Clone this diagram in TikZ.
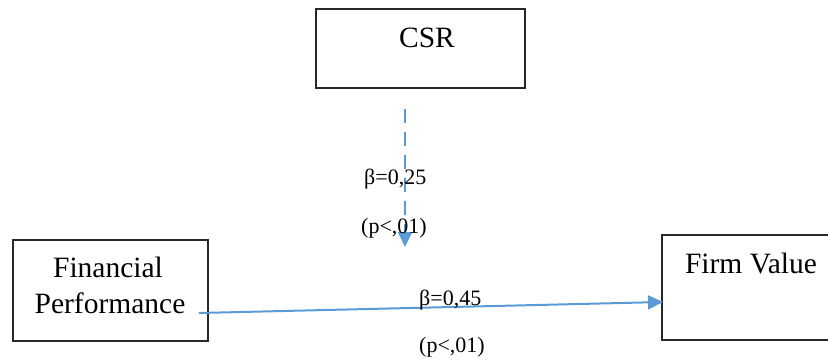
\documentclass[tikz,border=0pt]{standalone}
\usepackage{fontspec}
\setmainfont{Liberation Serif}
\usetikzlibrary{arrows.meta}
\definecolor{linkblue}{RGB}{91,155,213}
\definecolor{boxgray}{RGB}{40,40,40}
\begin{document}
\begin{tikzpicture}[x=1pt,y=-1pt,
  varbox/.style={draw=boxgray,line width=1.2pt,rectangle,inner sep=0pt},
  bigtext/.style={inner sep=0pt,anchor=base,font=\fontsize{29.5}{34}\selectfont},
  smalltext/.style={inner sep=0pt,anchor=base west,font=\fontsize{22}{26}\selectfont},
  link/.style={draw=linkblue,line width=2pt,-{Triangle[length=15pt,width=14pt]}},
  dashlink/.style={link,dash pattern=on 14pt off 9pt}]
\useasboundingbox (0,0) rectangle (828,360);
% boxes
\node[varbox,minimum width=209pt,minimum height=79pt] (csr) at (420.5,48.5) {};
\node[varbox,minimum width=195pt,minimum height=101pt] (fp) at (110.5,290.5) {};
\node[varbox,minimum width=180pt,minimum height=105pt] (fv) at (752,287.5) {};
% texts
\node[bigtext] (csrtext) at (427,47) {CSR};
\node[bigtext] (fptext1) at (108,277) {Financial};
\node[bigtext] (fptext2) at (110,313) {Performance};
\node[bigtext] (fvtext) at (751,273) {Firm Value};
% connector ends
\coordinate (dstart) at (405,109);
\coordinate (dend) at (405,247);
\coordinate (sstart) at (199,313);
\coordinate (send) at (663,302);
\draw[dashlink] (dstart) -- (dend);
\draw[link] (sstart) -- (send);
% labels
\node[smalltext] (b1) at (364,184) {β=0,25};
\node[smalltext] (p1) at (361,233) {(p<,01)};
\node[smalltext] (b2) at (419,305) {β=0,45};
\node[smalltext] (p2) at (419,352) {(p<,01)};
\end{tikzpicture}
\end{document}
